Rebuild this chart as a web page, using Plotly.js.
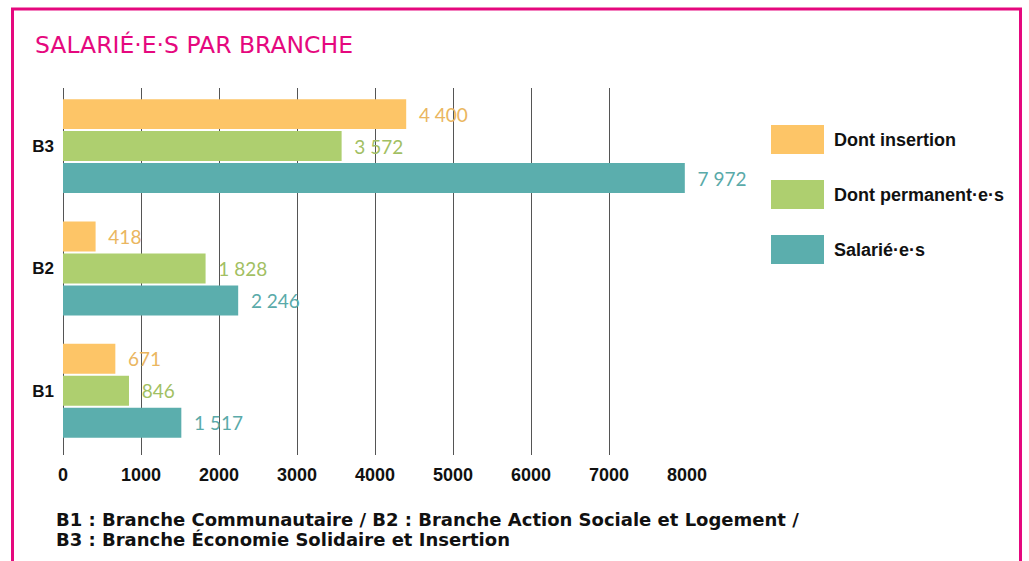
<!DOCTYPE html>
<html>
<head>
<meta charset="utf-8">
<script src="https://cdn.plot.ly/plotly-3.0.1.min.js"></script>
<style>html,body{margin:0;padding:0;background:#fff;}#chart{width:1029px;height:561px;}</style>
</head>
<body>
<div id="chart"></div>
<script>
// ---- data ----
const categories = ["B1", "B2", "B3"];
const seriesNames = ["Salarié·e·s", "Dont permanent·e·s", "Dont insertion"];
const salaries   = [1517, 2246, 7972];
const permanents = [846, 1828, 3572];
const insertion  = [671, 418, 4400];
const xTicks = [0, 1000, 2000, 3000, 4000, 5000, 6000, 7000, 8000];
const titleText = "SALARIÉ·E·S PAR BRANCHE";
const footnote = ["B1 : Branche Communautaire / B2 : Branche Action Sociale et Logement /",
                  "B3 : Branche Économie Solidaire et Insertion"];

// ---- style ----
const barColors  = ["#5baead", "#aecf6f", "#fdc567"];
const textColors = ["#5aaaa9", "#a2bf63", "#eab660"];
const pink = "#e5087e";
const boldFont = "Liberation Sans";
const W = 1029, H = 561;
const M = {l: 63, r: 342, t: 88, b: 106};
const PW = W - M.l - M.r, PH = H - M.t - M.b;
const px2x = p => (p - M.l) / PW;
const py2y = p => (H - M.b - p) / PH;

const values = [salaries, permanents, insertion];
const traces = values.map((v, i) => ({
  type: "bar",
  orientation: "h",
  name: seriesNames[i],
  x: v,
  y: categories,
  marker: {color: barColors[i]},
  texttemplate: "\u00a0\u00a0%{x:,d}",
  textposition: "outside",
  cliponaxis: false,
  constraintext: "none",
  outsidetextfont: {family: "Lato", size: 19, color: textColors[i]},
  hoverinfo: "skip"
}));

const shapes = [{
  type: "rect", xref: "paper", yref: "paper",
  x0: px2x(12.5), x1: px2x(1020.5), y0: py2y(600), y1: py2y(9),
  line: {color: pink, width: 3}, fillcolor: "rgba(0,0,0,0)", layer: "below"
}];
const annotations = [];
// legend (top item = last trace)
const legendTops = [235, 180, 125];
seriesNames.forEach((n, i) => {
  const top = legendTops[i];
  shapes.push({type: "rect", xref: "paper", yref: "paper",
    x0: px2x(771), x1: px2x(824), y0: py2y(top + 29), y1: py2y(top),
    line: {width: 0}, fillcolor: barColors[i]});
  annotations.push({xref: "paper", yref: "paper", x: px2x(832), y: py2y(top + 15),
    xanchor: "left", yanchor: "middle", showarrow: false, text: n,
    font: {family: boldFont, size: 18, color: "#111", weight: 700}});
});
footnote.forEach((t, i) => {
  annotations.push({xref: "paper", yref: "paper", x: px2x(54), y: py2y(519 + i * 20),
    xanchor: "left", yanchor: "middle", showarrow: false, text: t,
    font: {family: "DejaVu Sans", size: 18, color: "#111", weight: 700}});
});

const layout = {
  width: W, height: H,
  margin: M,
  paper_bgcolor: "#fff", plot_bgcolor: "#fff",
  separators: ", ",
  showlegend: false,
  barmode: "group",
  bargap: 0.216,
  bargroupgap: 0.0625,
  title: {text: titleText, xref: "container", yref: "container",
    x: 35 / W, xanchor: "left", y: 1 - 45 / H, yanchor: "middle",
    font: {family: "DejaVu Sans", size: 23.5, color: pink}},
  xaxis: {range: [0, 8000], tickvals: xTicks, ticktext: xTicks.map(String),
    showgrid: true, gridcolor: "#555", gridwidth: 1, zeroline: true, zerolinecolor: "#555",
    zerolinewidth: 1, showline: false, ticks: "", ticklabelstandoff: 7,
    tickfont: {family: boldFont, size: 18, color: "#111", weight: 700}, fixedrange: true},
  yaxis: {categoryorder: "array", categoryarray: categories, range: [-0.525, 2.475],
    showgrid: false, zeroline: false, showline: false, ticks: "", ticklabelstandoff: 8,
    tickfont: {family: boldFont, size: 17, color: "#111", weight: 700}, fixedrange: true},
  shapes: shapes,
  annotations: annotations
};
Plotly.newPlot("chart", traces, layout, {displayModeBar: false, staticPlot: true});
</script>
</body>
</html>
